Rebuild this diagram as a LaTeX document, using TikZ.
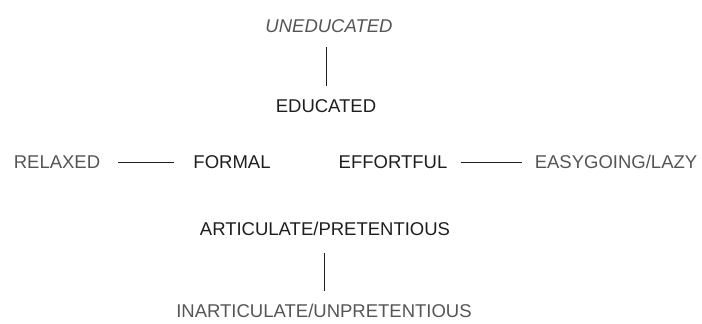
\documentclass[tikz,border=0pt]{standalone}
\usepackage{fontspec}
\setmainfont{Liberation Sans}
\usetikzlibrary{positioning}
\definecolor{inkdark}{HTML}{1E1E1E}
\definecolor{inklight}{HTML}{555555}
\tikzset{
  term/.style={inner sep=2pt, font=\fontsize{18.5}{22}\selectfont, text=inkdark},
  pole/.style={term, text=inklight},
  link/.style={line width=1pt, draw=inkdark},
}

\begin{document}
\begin{tikzpicture}[x=1pt, y=-1pt]
  \useasboundingbox (0,0) rectangle (702,324);

  % Vertical axis, top
  \node[pole, font=\fontsize{18.5}{22}\selectfont\itshape] (uneducated) at (329,26) {UNEDUCATED};
  \node[term] (educated) at (326,106) {EDUCATED};

  % Middle row
  \node[pole] (relaxed) at (57,162) {RELAXED};
  \node[term] (formal) at (232,162) {FORMAL};
  \node[term] (effortful) at (393,162) {EFFORTFUL};
  \node[pole] (easygoing) at (616,162) {EASYGOING/LAZY};

  % Vertical axis, bottom
  \node[term] (articulate) at (325,229) {ARTICULATE/PRETENTIOUS};
  \node[pole] (inarticulate) at (324,311) {INARTICULATE/UNPRETENTIOUS};

  % Connectors
  \draw[link, shorten <=12pt, shorten >=11pt] (uneducated.south -| educated) -- (educated);
  \draw[link, shorten <=16pt, shorten >=17pt] (relaxed) -- (formal);
  \draw[link, shorten <=11pt, shorten >=11pt] (effortful) -- (easygoing);
  \draw[link, shorten <=15pt, shorten >=11pt] (articulate.south -| inarticulate) -- (inarticulate);
\end{tikzpicture}
\end{document}
